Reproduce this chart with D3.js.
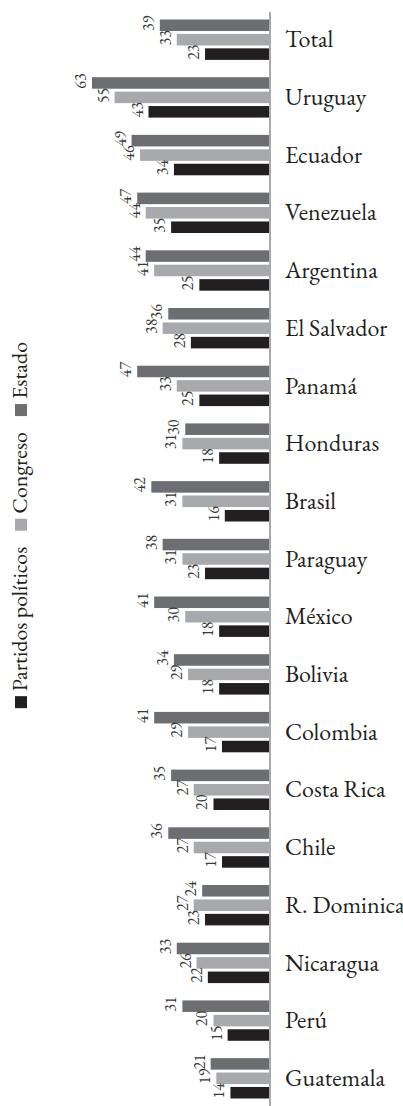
<!DOCTYPE html>
<html>
<head>
<meta charset="utf-8">
<script src="https://cdn.jsdelivr.net/npm/d3@7"></script>
<style>
  body { margin: 0; background: #fff; }
  svg text { font-family: "EB Garamond", Garamond, "Liberation Serif", serif; fill: #231f20; }
</style>
</head>
<body>
<svg id="chart"></svg>
<script>
var categories = ["Total", "Uruguay", "Ecuador", "Venezuela", "Argentina", "El Salvador", "Panamá", "Honduras", "Brasil", "Paraguay", "México", "Bolivia", "Colombia", "Costa Rica", "Chile", "R. Dominicana", "Nicaragua", "Perú", "Guatemala"];
var estado   = [39, 63, 49, 47, 44, 36, 47, 30, 42, 38, 41, 34, 41, 35, 36, 24, 33, 31, 21];
var congreso = [33, 55, 46, 44, 41, 38, 33, 31, 31, 31, 30, 29, 29, 27, 27, 27, 26, 20, 19];
var partidos = [23, 43, 34, 35, 25, 28, 25, 18, 16, 23, 18, 18, 17, 20, 17, 23, 22, 15, 14];
var seriesNames = ["Estado", "Congreso", "Partidos políticos"];

var width = 403, height = 1106;
var axisX = 270;

var colors = d3.scaleOrdinal()
  .domain(seriesNames)
  .range(["#6d6e71", "#a7a9ac", "#231f20"]);

var svg = d3.select("#chart").attr("width", width).attr("height", height);

var x = d3.scaleLinear().domain([0, 63]).range([axisX, 92]);

var y = d3.scaleBand()
  .domain(categories)
  .range([12, height])
  .paddingInner(0.3)
  .paddingOuter(0.13);

var ySub = d3.scaleBand()
  .domain(seriesNames)
  .range([0, y.bandwidth()])
  .paddingInner(0.2);

// one row per category with the 3 values
var rows = categories.map(function(c, i) {
  return { cat: c, vals: [
    { s: "Estado", v: estado[i] },
    { s: "Congreso", v: congreso[i] },
    { s: "Partidos políticos", v: partidos[i] }
  ]};
});

var groups = svg.append("g").selectAll("g")
  .data(rows)
  .enter().append("g")
  .attr("transform", function(d) { return "translate(0," + y(d.cat) + ")"; });

groups.selectAll("rect")
  .data(function(d) { return d.vals; })
  .enter().append("rect")
  .attr("x", function(d) { return x(d.v); })
  .attr("y", function(d) { return ySub(d.s); })
  .attr("width", function(d) { return axisX - x(d.v); })
  .attr("height", ySub.bandwidth())
  .attr("fill", function(d) { return colors(d.s); });

// value labels, rotated
groups.selectAll("text.val")
  .data(function(d) { return d.vals; })
  .enter().append("text")
  .attr("class", "val")
  .attr("text-anchor", "middle")
  .style("font-size", "16px")
  .style("fill", "#3a3a3a")
  .attr("transform", function(d) {
    return "translate(" + (x(d.v) - 6) + "," + (ySub(d.s) + ySub.bandwidth() / 2 - 2) + ") rotate(-90)";
  })
  .text(function(d) { return d.v; });

// category names
groups.append("text")
  .attr("x", 285)
  .attr("y", y.bandwidth() / 2)
  .attr("dy", "0.32em")
  .style("font-size", "24px")
  .text(function(d) { return d.cat; });

// axis line
svg.append("line")
  .attr("x1", axisX).attr("x2", axisX)
  .attr("y1", 12).attr("y2", height)
  .attr("stroke", "#a7a9ac")
  .attr("stroke-width", 2);

// legend, rotated (reads bottom to top)
var legend = svg.append("g");
var order = ["Partidos políticos", "Congreso", "Estado"];
var sq = 12, off = 0;
order.forEach(function(name, i) {
  legend.append("rect")
    .attr("x", off).attr("y", -sq)
    .attr("width", sq).attr("height", sq)
    .attr("fill", colors(name));
  var t = legend.append("text")
    .attr("x", off + sq + 5)
    .attr("y", 0)
    .style("font-size", "22px")
    .text(name);
  off += sq + 5 + t.node().getComputedTextLength() + 16;
});
off -= 16;
legend.attr("transform", "translate(27," + (525 + off / 2) + ") rotate(-90)");
</script>
</body>
</html>
